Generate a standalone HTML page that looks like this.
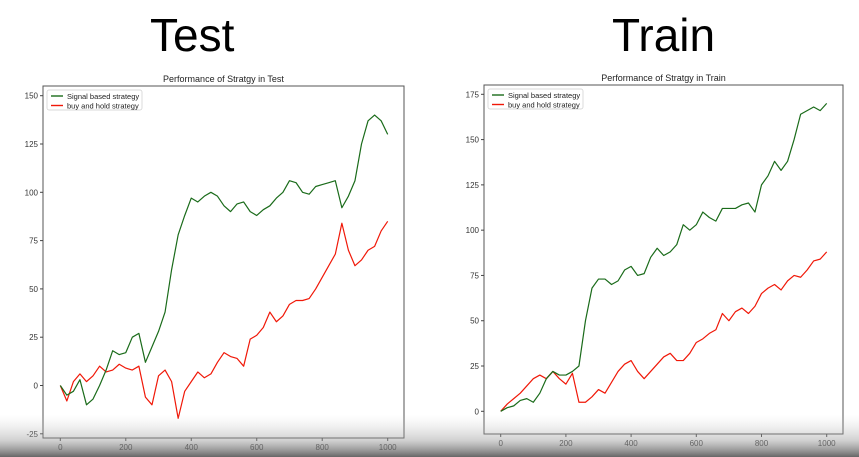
<!DOCTYPE html>
<html><head><meta charset="utf-8"><style>
body{margin:0;width:859px;height:457px;overflow:hidden;background:#fff;font-family:"Liberation Sans",sans-serif}
.big{position:absolute;top:8px;font-size:46px;color:#000;font-family:"Liberation Sans Narrow","Liberation Sans",sans-serif}
</style></head><body>
<div class="big" style="left:150px">Test</div>
<div class="big" style="left:612px">Train</div>
<svg id="svg" width="859" height="457" style="position:absolute;left:0;top:0">
<defs><linearGradient id="g" x1="0" y1="0" x2="0" y2="1"><stop offset="0" stop-color="#ccc" stop-opacity="0"/><stop offset="0.6" stop-color="#999" stop-opacity="0.45"/><stop offset="1" stop-color="#555" stop-opacity="0.9"/></linearGradient></defs>
</svg>
<script>
const xs=[0,20,40,60,80,100,120,140,160,180,200,220,240,260,280,300,320,340,360,380,400,420,440,460,480,500,520,540,560,580,600,620,640,660,680,700,720,740,760,780,800,820,840,860,880,900,920,940,960,980,1000];
const testSignal=[0,-5,-3,3,-10,-7,0,8,18,16,17,25,27,12,20,28,38,60,78,88,97,95,98,100,98,93,90,94,95,90,88,91,93,97,100,106,105,100,99,103,104,105,106,92,98,106,125,137,140,137,130];
const testHold=[0,-8,2,6,2,5,10,7,8,11,9,8,10,-6,-10,5,8,2,-17,-3,2,7,4,6,12,17,15,14,10,24,26,30,38,33,36,42,44,44,45,50,56,62,68,84,70,62,65,70,72,80,85];
const trainSignal=[0,2,3,6,7,5,10,18,22,20,20,22,25,50,68,73,73,70,72,78,80,75,76,85,90,86,88,92,103,100,103,110,107,105,112,112,112,114,115,110,125,130,138,133,138,150,164,166,168,166,170];
const trainHold=[0,4,7,10,14,18,20,18,22,18,15,21,5,5,8,12,10,16,22,26,28,22,18,22,26,30,32,28,28,32,38,40,43,45,54,50,55,57,54,58,65,68,70,67,72,75,74,78,83,84,88];
const testYTicks=[-25,0,25,50,75,100,125,150];
const trainYTicks=[0,25,50,75,100,125,150,175];
const xTicks=[0,200,400,600,800,1000];
const NS='http://www.w3.org/2000/svg',svg=document.getElementById('svg');
function el(t,a,p){const e=document.createElementNS(NS,t);for(const k in a)e.setAttribute(k,a[k]);(p||svg).appendChild(e);return e;}
function chart(c){
  const g=el('g',{});
  
  
  const X=v=>c.x0+(v/1000)*(c.x1-c.x0);
  const Y=v=>c.yz+(v-c.v0)*(c.yt-c.yz)/(c.vt-c.v0);
  const fr=el('rect',{x:c.bx0,y:c.by0,width:c.bx1-c.bx0,height:c.by1-c.by0,fill:'#fff',stroke:'#555','stroke-width':1},g);
  
  const t=el('text',{x:(c.bx0+c.bx1)/2,y:c.by0-4,'text-anchor':'middle','font-size':9,fill:'#222'},g);t.textContent=c.title;
  
  c.yticks.forEach(v=>{const y=Y(v);el('line',{x1:c.bx0-3,x2:c.bx0,y1:y,y2:y,stroke:'#444'},g);
    const l=el('text',{x:c.bx0-5,y:y+3,'text-anchor':'end','font-size':8,fill:'#333'},g);l.textContent=v;
    });
  xTicks.forEach(v=>{const x=X(v);el('line',{x1:x,x2:x,y1:c.by1,y2:c.by1+3,stroke:'#444'},g);
    const l=el('text',{x:x,y:c.by1+12,'text-anchor':'middle','font-size':8,fill:'#333'},g);l.textContent=v;
    });
  [[c.hold,'#f01808','buy-and-hold-line'],[c.sig,'#1a6b1a','signal-strategy-line']].forEach(s=>{
    const p=el('polyline',{points:xs.map((x,i)=>X(x)+','+Y(s[0][i])).join(' '),fill:'none',stroke:s[1],'stroke-width':1.2,'stroke-linejoin':'round'},g);
    });
  const lg=el('g',{},g);
  el('rect',{x:c.bx0+4,y:c.by0+4,width:95,height:20,fill:'#fff',stroke:'#ccc','stroke-width':0.7,rx:2},lg);
  [['Signal based strategy','#1a6b1a'],['buy and hold strategy','#f01808']].forEach((e,i)=>{
    const yy=c.by0+10+i*9.5;
    el('line',{x1:c.bx0+8,x2:c.bx0+20,y1:yy,y2:yy,stroke:e[1],'stroke-width':1.4},lg);
    const l=el('text',{x:c.bx0+24,y:yy+3,'font-size':7.5,fill:'#222'},lg);l.textContent=e[0];
    });
}
chart({name:'test-chart',title:'Performance of Stratgy in Test',bx0:43,bx1:404,by0:86,by1:438,x0:60.3,x1:387.7,yz:385.5,v0:0,yt:95.7,vt:150,yticks:testYTicks,sig:testSignal,hold:testHold});
chart({name:'train-chart',title:'Performance of Stratgy in Train',bx0:484,bx1:843,by0:85,by1:434,x0:500.7,x1:826.7,yz:411.3,v0:0,yt:94.3,vt:175,yticks:trainYTicks,sig:trainSignal,hold:trainHold});
const b=el('rect',{x:0,y:415,width:859,height:42,fill:'url(#g)'});

</script>
</body></html>
